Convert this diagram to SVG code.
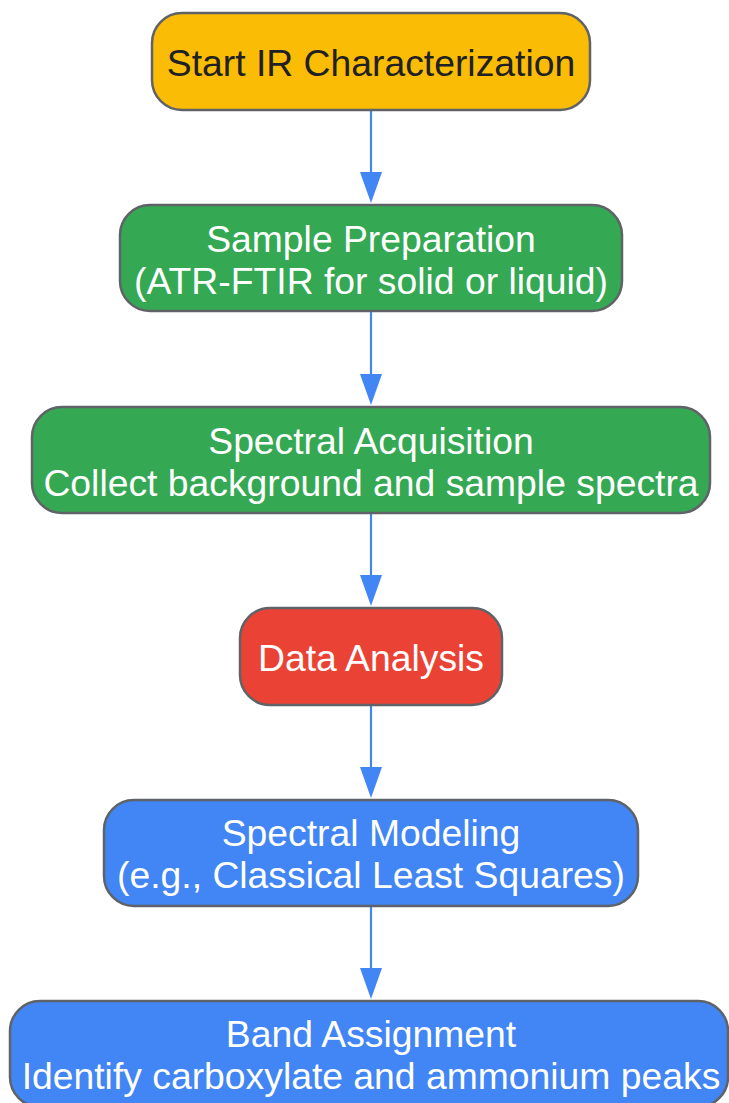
<svg xmlns="http://www.w3.org/2000/svg" width="729" height="1103" viewBox="0 0 729 1103">
<style>
.node rect{stroke:#5f6368;stroke-width:2.5}
.lbl{font-family:"Liberation Sans",Arial,sans-serif;font-size:37.3px;text-anchor:middle;fill:#ffffff}
.dark{fill:#202124}
.edge{stroke:#4285f4;stroke-width:2.2;fill:none}
.head{fill:#4285f4}
</style>
<rect width="729" height="1103" fill="#ffffff"/>
<g id="connectors">
<path class="edge" d="M371,110 L371,175"/>
<path class="head" d="M360,172 L382,172 L371,203 Z"/>
<path class="edge" d="M371,311 L371,376"/>
<path class="head" d="M360,374 L382,374 L371,405 Z"/>
<path class="edge" d="M371,513 L371,578"/>
<path class="head" d="M360,575 L382,575 L371,606 Z"/>
<path class="edge" d="M371,705 L371,770"/>
<path class="head" d="M360,767 L382,767 L371,798 Z"/>
<path class="edge" d="M371,906 L371,972"/>
<path class="head" d="M360,968 L382,968 L371,999 Z"/>
</g>
<g id="n1" class="node">
<rect x="152" y="13" width="438" height="97" rx="30" fill="#fbbc05"/>
<text class="lbl dark" x="371" y="76">Start IR Characterization</text>
</g>
<g id="n2" class="node">
<rect x="120" y="205" width="502" height="106" rx="30" fill="#34a853"/>
<text class="lbl" x="371" y="252">Sample Preparation</text>
<text class="lbl" x="371" y="294">(ATR-FTIR for solid or liquid)</text>
</g>
<g id="n3" class="node">
<rect x="32" y="407" width="678" height="106" rx="30" fill="#34a853"/>
<text class="lbl" x="371" y="454">Spectral Acquisition</text>
<text class="lbl" x="371" y="496">Collect background and sample spectra</text>
</g>
<g id="n4" class="node">
<rect x="240" y="608" width="262" height="97" rx="30" fill="#ea4335"/>
<text class="lbl" x="371" y="671">Data Analysis</text>
</g>
<g id="n5" class="node">
<rect x="104" y="800" width="534" height="106" rx="30" fill="#4285f4"/>
<text class="lbl" x="371" y="846">Spectral Modeling</text>
<text class="lbl" x="371" y="888">(e.g., Classical Least Squares)</text>
</g>
<g id="n6" class="node">
<rect x="10" y="1001" width="718" height="106" rx="30" fill="#4285f4"/>
<text class="lbl" x="371" y="1047">Band Assignment</text>
<text class="lbl" x="371" y="1089">Identify carboxylate and ammonium peaks</text>
</g>
</svg>
